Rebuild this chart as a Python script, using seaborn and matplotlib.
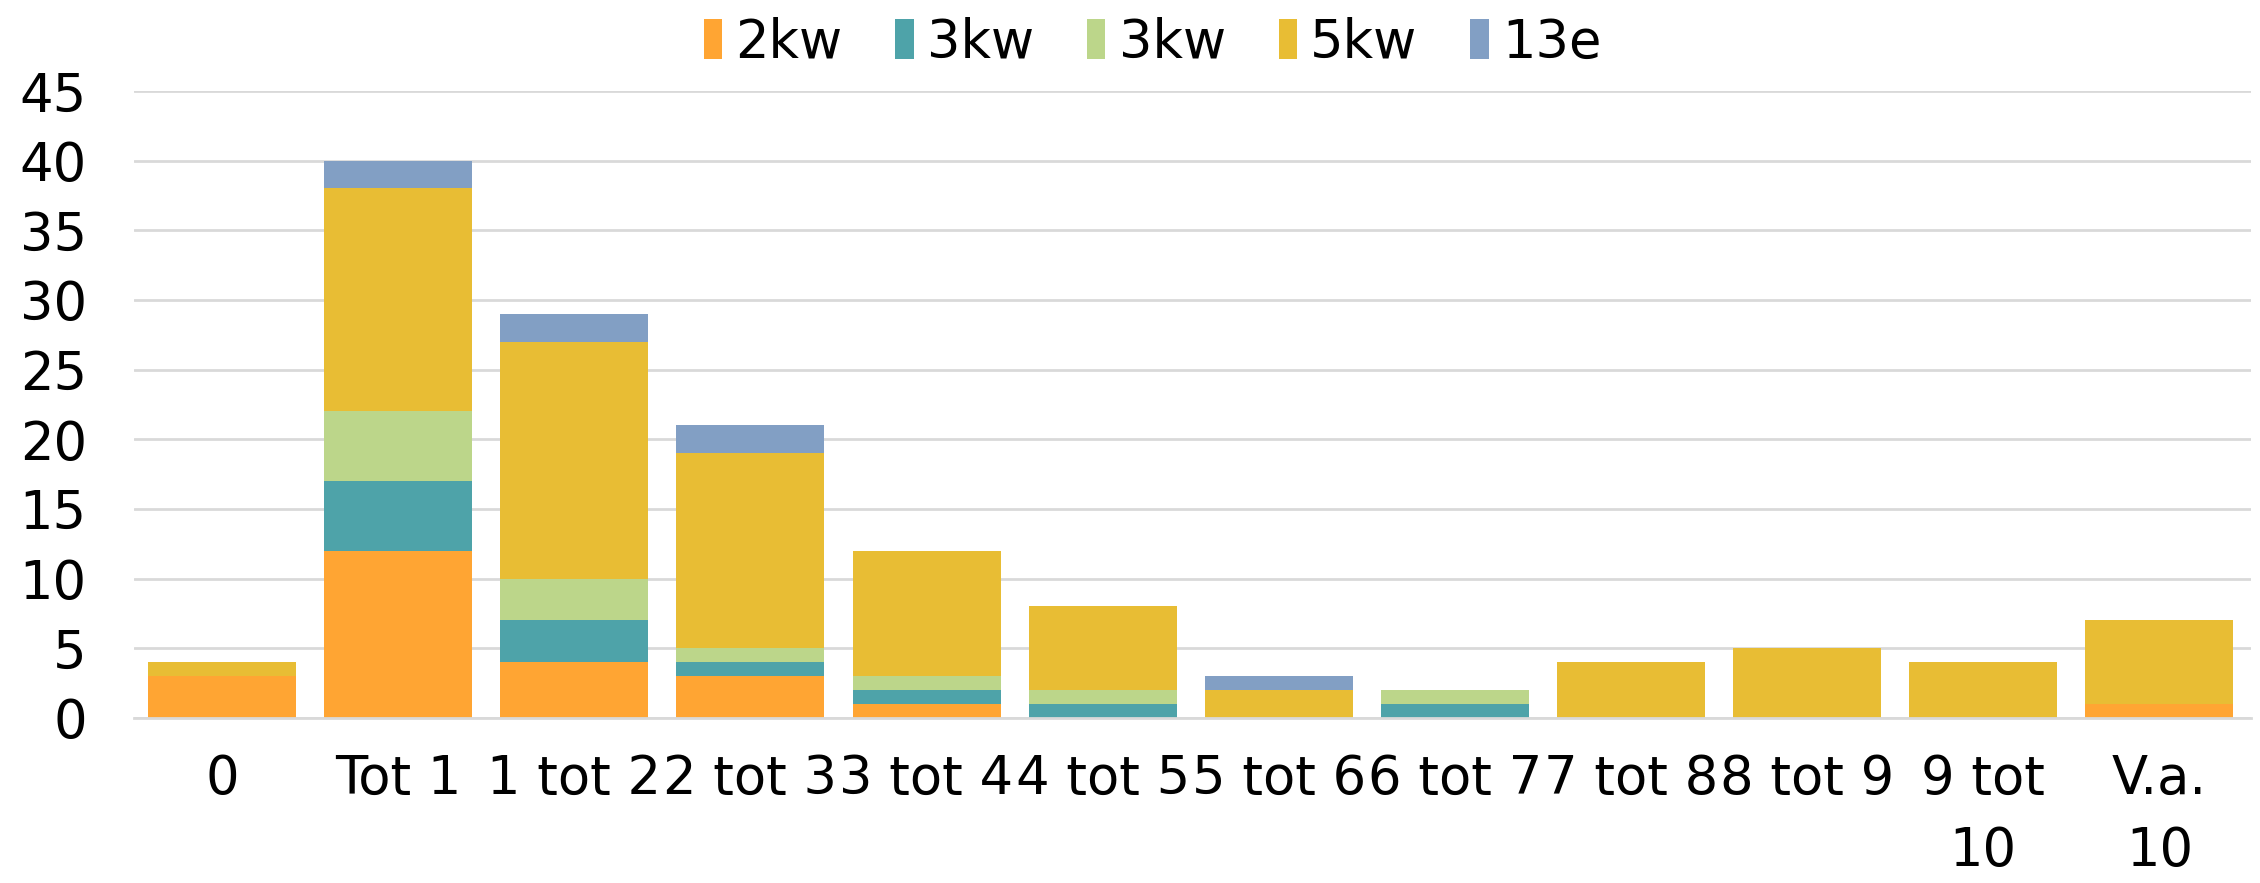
import matplotlib
matplotlib.use("Agg")
import matplotlib.pyplot as plt
import seaborn as sns
import numpy as np
import pandas as pd

categories = ["0", "Tot 1", "1 tot 2", "2 tot 3", "3 tot 4", "4 tot 5", "5 tot 6",
              "6 tot 7", "7 tot 8", "8 tot 9", "9 tot\n10", "V.a.\n10"]
series_names = ["2kw", "3kw", "3kw ", "5kw", "13e"]
legend_labels = ["2kw", "3kw", "3kw", "5kw", "13e"]
s_2kw   = [3, 12, 4, 3, 1, 0, 0, 0, 0, 0, 0, 1]
s_3kw_a = [0, 5, 3, 1, 1, 1, 0, 1, 0, 0, 0, 0]
s_3kw_b = [0, 5, 3, 1, 1, 1, 0, 1, 0, 0, 0, 0]
s_5kw   = [1, 16, 17, 14, 9, 6, 2, 0, 4, 5, 4, 6]
s_13e   = [0, 2, 2, 2, 0, 0, 1, 0, 0, 0, 0, 0]
colors = ["#FFA533", "#4EA3A9", "#BCD68A", "#E8BD34", "#829FC4"]
yticks = [0, 5, 10, 15, 20, 25, 30, 35, 40, 45]

sns.set_theme(style="white")
plt.rcParams["font.family"] = ["DejaVu Sans"]
plt.rcParams["text.color"] = "black"

fig = plt.figure(figsize=(22.6, 8.83), dpi=100)
ax = fig.add_axes([0.0593, 0.187, 0.9367, 0.710])

values = [s_2kw, s_3kw_a, s_3kw_b, s_5kw, s_13e]
bottom = np.zeros(len(categories))
for name, lab, vals, col in zip(series_names, legend_labels, values, colors):
    df = pd.DataFrame({"cat": categories, "val": vals})
    sns.barplot(data=df, x="cat", y="val", order=categories, color=col,
                bottom=bottom, width=0.84, ax=ax, label=lab,
                linewidth=0, saturation=1, errorbar=None)
    bottom = bottom + np.array(vals)

ax.set_ylim(0, 45)
ax.set_xlim(-0.5, 11.52)
ax.set_yticks(yticks)
ax.set_xlabel("")
ax.set_ylabel("")
ax.yaxis.grid(True, color="#D9D9D9", linewidth=2)
ax.set_axisbelow(True)
for s in ["top", "right", "left"]:
    ax.spines[s].set_visible(False)
ax.spines["bottom"].set_color("#D9D9D9")
ax.spines["bottom"].set_linewidth(2)
ax.tick_params(axis="y", labelsize=38, pad=34, length=0, labelcolor="black")
ax.tick_params(axis="x", labelsize=38, pad=25, length=0, labelcolor="black")
for t in ax.get_xticklabels():
    t.set_verticalalignment("top")
    t.set_linespacing(1.5)

handles, labels = ax.get_legend_handles_labels()
leg_ax = ax.get_legend()
if leg_ax is not None:
    leg_ax.remove()
fig.legend(handles, labels, loc="upper center", bbox_to_anchor=(0.51, 1.035),
           ncol=5, frameon=False, fontsize=38, handlelength=0.35, handleheight=0.8,
           handletextpad=0.25, columnspacing=1.0, labelcolor="black")

fig.savefig("out.png", dpi=100)
